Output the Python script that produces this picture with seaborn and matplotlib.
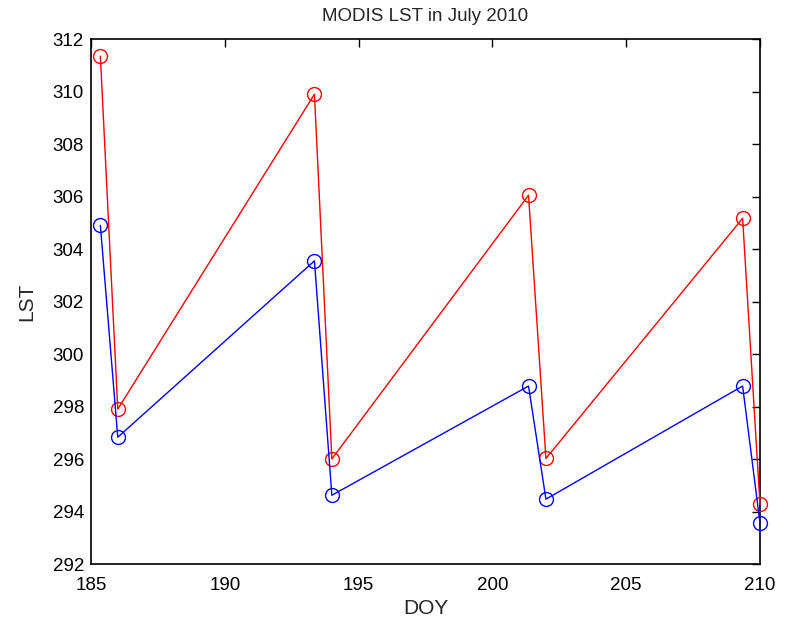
import matplotlib
matplotlib.use("Agg")
import pandas as pd
import seaborn as sns
import matplotlib.pyplot as plt

# DOY of each overpass
doy = [185.35, 186.0, 193.35, 194.0, 201.35, 202.0, 209.35, 210.0]
lst_red = [311.35, 297.9, 309.9, 296.0, 306.05, 296.02, 305.17, 294.27]
lst_blue = [304.9, 296.83, 303.55, 294.62, 298.78, 294.47, 298.78, 293.56]

df = pd.DataFrame({'DOY': doy, 'red': lst_red, 'blue': lst_blue})

sns.set_style("white")
plt.rcParams['font.family'] = ['Liberation Sans', 'DejaVu Sans']

fig = plt.figure(figsize=(7.92, 6.2), dpi=100)
ax = fig.add_axes([0.1149, 0.0903, 0.8447, 0.8467])

for col in ['red', 'blue']:
    sns.lineplot(x='DOY', y=col, data=df, ax=ax, color=col, sort=False,
                 marker='o', markersize=10, markerfacecolor='none',
                 markeredgecolor=col, markeredgewidth=1.0, linewidth=1.0,
                 clip_on=False, zorder=3)

ax.set_xlim(185, 210)
ax.set_ylim(292, 312)
ax.set_xticks(range(185, 211, 5))
ax.set_yticks(range(292, 313, 2))
ax.tick_params(direction='in', top=True, right=True, length=6, width=1,
               labelsize=13.5, colors='black', pad=5)
ax.tick_params(axis='x', pad=9)
for s in ax.spines.values():
    s.set_color('black')
    s.set_linewidth(1.2)
ax.set_xlabel("DOY", fontsize=15, labelpad=4)
ax.set_ylabel("LST", fontsize=15, labelpad=12)
ax.set_title("MODIS LST in July 2010", fontsize=13.5, pad=13)

fig.savefig("out.png", dpi=100)
